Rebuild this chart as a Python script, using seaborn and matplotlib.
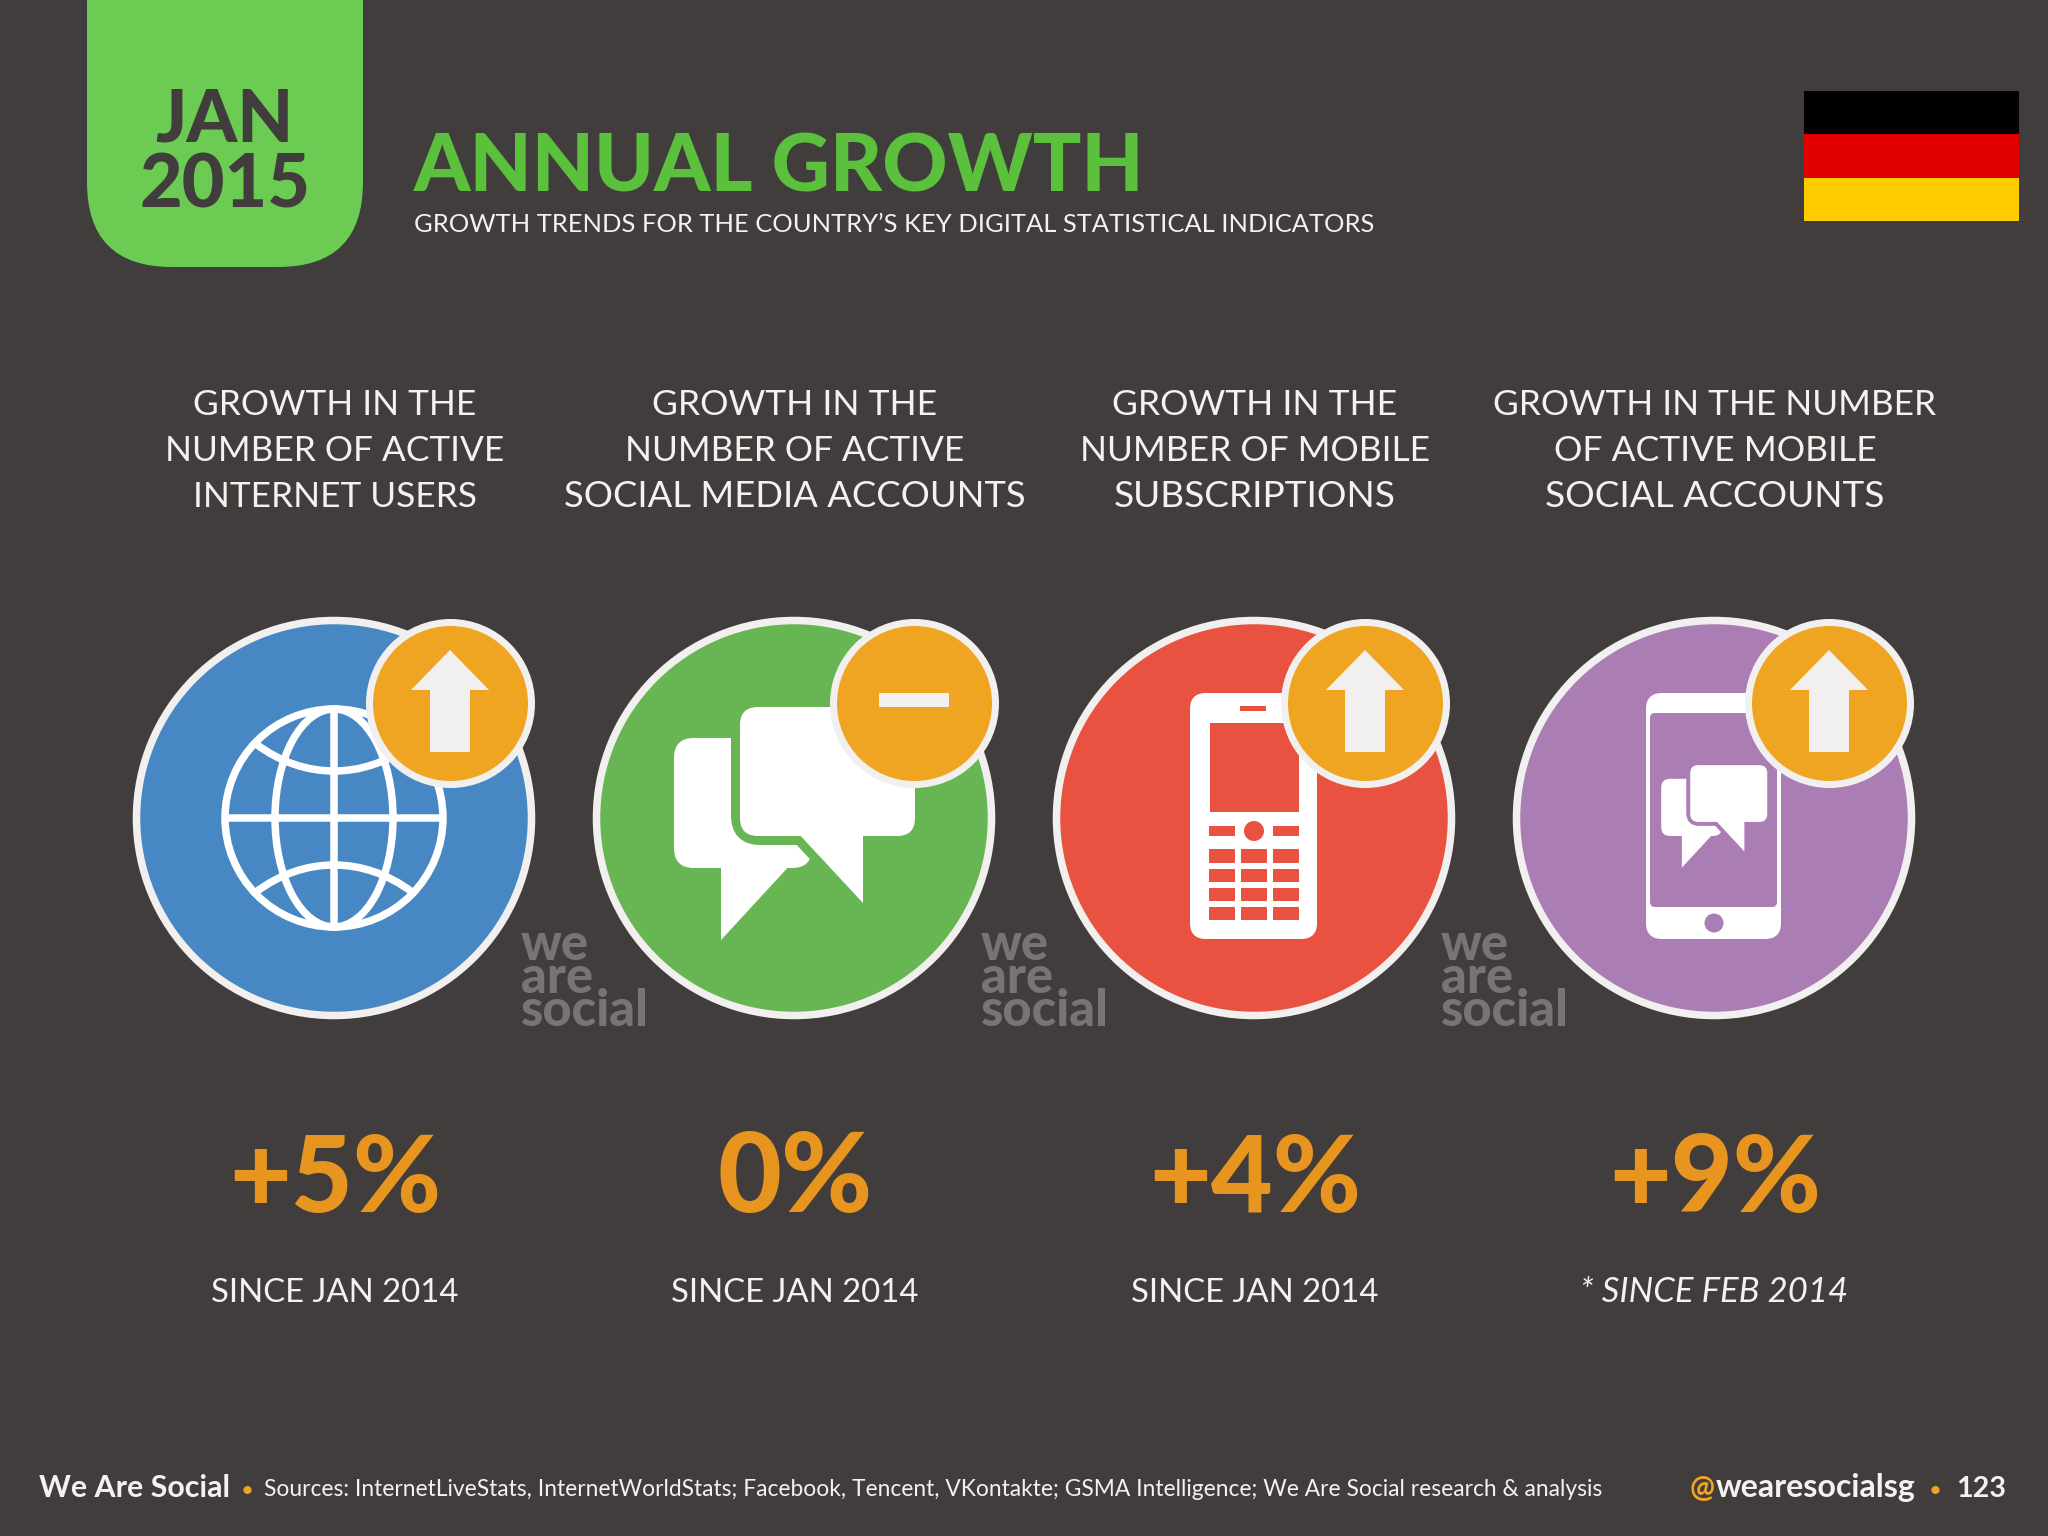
# Annual growth slide: four digital indicators for Germany, Jan 2015
import pandas as pd
import matplotlib
matplotlib.use('Agg')
import matplotlib.pyplot as plt
import seaborn as sns
from matplotlib.patches import FancyBboxPatch, Polygon, Ellipse, Rectangle, PathPatch
from matplotlib.path import Path

# Data
metrics = ['Internet users', 'Social media accounts', 'Mobile subscriptions', 'Mobile social accounts']
growth_pct = [5, 0, 4, 9]
since_labels = ['SINCE JAN 2014', 'SINCE JAN 2014', 'SINCE JAN 2014', '* SINCE FEB 2014']
header_lines = [
    ['GROWTH IN THE', 'NUMBER OF ACTIVE', 'INTERNET USERS'],
    ['GROWTH IN THE', 'NUMBER OF ACTIVE', 'SOCIAL MEDIA ACCOUNTS'],
    ['GROWTH IN THE', 'NUMBER OF MOBILE', 'SUBSCRIPTIONS'],
    ['GROWTH IN THE NUMBER', 'OF ACTIVE MOBILE', 'SOCIAL ACCOUNTS'],
]
circle_colors = ['#4787c4', '#68b653', '#e95240', '#aa7db5']

BG = '#413d3c'
RING = '#f2f0ee'
ORANGE = '#f0a522'
PCT_ORANGE = '#e8951f'
DPI = 100

sns.set_theme(style='dark', rc={'figure.facecolor': BG, 'axes.facecolor': BG})
plt.rcParams['font.family'] = ['Lato', 'DejaVu Sans']

fig = plt.figure(figsize=(20.48, 15.36), dpi=DPI)
ax = fig.add_axes([0, 0, 1, 1])

col_x = [334, 794, 1254, 1714]
badge_x = [450, 914, 1365, 1829]
circle_y = 818
badge_y = 703

df = pd.DataFrame({'metric': metrics, 'growth': growth_pct, 'x': col_x, 'bx': badge_x})
df['y'] = circle_y
df['by'] = badge_y


def px_to_pt(v):
    return v * 72 / DPI


renderer = fig.canvas.get_renderer()


def put(x, y, s, width=None, size=30, color='#f4f2f0', ha='center', weight='normal', style='normal', z=20, **kw):
    # text with its baseline at y; size is adjusted so the string has the wanted pixel width
    t = ax.text(x, y, s, color=color, ha=ha, va='baseline', fontsize=size,
                fontweight=weight, fontstyle=style, zorder=z, **kw)
    if width is not None:
        w = t.get_window_extent(renderer).width
        t.set_fontsize(size * width / w)
    return t


def rect(x0, x1, y0, y1, color, r=0, z=5, edge=None, lw=0):
    if r > 0:
        p = FancyBboxPatch((x0, y0), x1 - x0, y1 - y0, boxstyle=f'round,pad=0,rounding_size={r}',
                           fc=color, ec=edge if edge else 'none', lw=lw, zorder=z)
    else:
        p = Rectangle((x0, y0), x1 - x0, y1 - y0, fc=color, ec=edge if edge else 'none', lw=lw, zorder=z)
    ax.add_patch(p)


def poly(points, color, z=5, edge=None, lw=0):
    ax.add_patch(Polygon(points, closed=True, fc=color, ec=edge if edge else 'none', lw=lw, zorder=z))


def draw_globe(cx, cy, color='white'):
    lw = px_to_pt(7.5)
    kw = dict(fc='none', ec=color, lw=lw, zorder=5)
    ax.add_patch(Ellipse((cx, cy), 218, 218, **kw))
    ax.add_patch(Ellipse((cx, cy), 118, 218, **kw))
    ax.plot([cx, cx], [cy - 108, cy + 108], color=color, lw=lw, zorder=5)
    ax.plot([cx - 108, cx + 108], [cy, cy], color=color, lw=lw, zorder=5)
    for sgn in (-1, 1):
        verts = [(cx - 78, cy + sgn * 74), (cx - 30, cy + sgn * 38), (cx + 30, cy + sgn * 38), (cx + 78, cy + sgn * 74)]
        codes = [Path.MOVETO, Path.CURVE4, Path.CURVE4, Path.CURVE4]
        ax.add_patch(PathPatch(Path(verts, codes), fc='none', ec=color, lw=lw, zorder=5))


def draw_chat(cx, cy, bg, scale=1.0, z=5):
    def sx(v):
        return cx + v * scale

    def sy(v):
        return cy + v * scale

    # back bubble and its tail
    rect(sx(-120), sx(18), sy(-80), sy(50), 'white', r=20 * scale, z=z)
    poly([(sx(-73), sy(45)), (sx(-73), sy(122)), (sx(-2), sy(45))], 'white', z=z)
    # front bubble sits on a gap in the circle colour
    gap = px_to_pt(18 * scale)
    rect(sx(-54), sx(121), sy(-111), sy(18), bg, r=20 * scale, z=z + 0.1, edge=bg, lw=gap)
    poly([(sx(3), sy(14)), (sx(69), sy(85)), (sx(69), sy(14))], bg, z=z + 0.1, edge=bg, lw=gap)
    rect(sx(-54), sx(121), sy(-111), sy(18), 'white', r=18 * scale, z=z + 0.2)
    poly([(sx(3), sy(14)), (sx(69), sy(85)), (sx(69), sy(14))], 'white', z=z + 0.2)


def draw_feature_phone(cx, cy, bg):
    rect(cx - 64, cx + 63, cy - 125, cy + 121, 'white', r=16)
    rect(cx - 14, cx + 12, cy - 112, cy - 107, bg, z=6)
    rect(cx - 44, cx + 45, cy - 95, cy - 6, bg, z=6)
    rect(cx - 45, cx - 19, cy + 8, cy + 18, bg, z=6)
    rect(cx + 19, cx + 45, cy + 8, cy + 18, bg, z=6)
    ax.add_patch(Ellipse((cx, cy + 13), 20, 20, fc=bg, ec='none', zorder=6))
    for y0, y1 in [(31, 45), (51, 64), (70, 83), (89, 102)]:
        for x0, x1 in [(-45, -19), (-13, 13), (19, 45)]:
            rect(cx + x0, cx + x1, cy + y0, cy + y1, bg, z=6)


def draw_smartphone(cx, cy, bg):
    rect(cx - 68, cx + 67, cy - 125, cy + 121, 'white', r=16)
    rect(cx - 64, cx + 63, cy - 105, cy + 89, bg, r=5, z=6)
    ax.add_patch(Ellipse((cx, cy + 105), 19, 19, fc=bg, ec='none', zorder=6))
    # small copy of the chat bubbles on the screen
    draw_chat(cx, cy - 4, bg, scale=0.44, z=7)


# big coloured circles, then the status badges on top of the icons
sns.scatterplot(data=df, x='x', y='y', hue='metric', palette=dict(zip(metrics, circle_colors)),
                s=px_to_pt(395) ** 2, edgecolor=RING, linewidth=px_to_pt(7.5),
                legend=False, ax=ax, zorder=3)
sns.scatterplot(data=df, x='bx', y='by', color=ORANGE,
                s=px_to_pt(162) ** 2, edgecolor=RING, linewidth=px_to_pt(7),
                legend=False, ax=ax, zorder=9)

draw_globe(col_x[0], circle_y)
draw_chat(col_x[1], circle_y, circle_colors[1])
draw_feature_phone(col_x[2], circle_y, circle_colors[2])
draw_smartphone(col_x[3], circle_y, circle_colors[3])

for bx, val in zip(badge_x, growth_pct):
    if val > 0:
        poly([(bx, badge_y - 53), (bx + 39, badge_y - 13), (bx + 20, badge_y - 13), (bx + 20, badge_y + 49),
              (bx - 20, badge_y + 49), (bx - 20, badge_y - 13), (bx - 39, badge_y - 13)], RING, z=10)
    else:
        rect(bx - 35, bx + 35, badge_y - 10, badge_y + 4, RING, z=10)

# date tab
rect(87, 363, -120, 267, '#6ccb52', r=85, z=2)
put(224, 141, 'JAN', width=138, color=BG, weight='black')
put(225, 208, '2015', width=171, color=BG, weight='black')

# title block
put(414, 192, 'ANNUAL GROWTH', width=729, color='#5bc03c', ha='left', weight='black')
put(414, 232, 'GROWTH TRENDS FOR THE COUNTRY\u2019S KEY DIGITAL STATISTICAL INDICATORS', width=955, ha='left')

# flag
for (y0, y1), c in zip([(91, 134), (134, 178), (178, 221)], ['#000000', '#e00000', '#ffcc00']):
    rect(1804, 2019, y0, y1, c, z=2)

# column headers
header_y = [415, 461, 507]
line_widths = [
    [283, 339, 283],
    [284, 338, 459],
    [284, 349, 281],
    [442, 322, 339],
]
for cx, lines, widths in zip(col_x, header_lines, line_widths):
    for y, line, w in zip(header_y, lines, widths):
        put(cx + 1, y, line, width=w)

# growth figures
pct_widths = [212, 155, 212, 212]
for cx, val, w, since in zip(col_x, growth_pct, pct_widths, since_labels):
    label = f'{val:+d}%' if val != 0 else '0%'
    put(cx + 1, 1212, label, width=w, color=PCT_ORANGE, weight='black')
    italic = since.startswith('*')
    put(cx + (1 if not italic else 0), 1302, since, width=267 if italic else 247, style='italic' if italic else 'normal')

# we are social watermarks
for wx in [521, 981, 1441]:
    put(wx, 1026, 'we\nare\nsocial', width=128, color='#787473', ha='left', weight='black', z=2,
        linespacing=0.63, multialignment='left')

# footer
put(39, 1497, 'We Are Social', width=191, ha='left', weight='bold')
put(247, 1497, '\u2022', size=16, color=ORANGE)
put(264, 1496, 'Sources: InternetLiveStats, InternetWorldStats; Facebook, Tencent, VKontakte; '
    'GSMA Intelligence; We Are Social research & analysis', width=1336, ha='left')
put(1690, 1497, '@', width=25, color=ORANGE, ha='left', weight='bold')
put(1716, 1497, 'wearesocialsg', width=200, ha='left', weight='bold')
put(1935, 1497, '\u2022', size=16, color=ORANGE)
put(1956, 1497, '123', width=50, ha='left', weight='bold')

ax.set_xlim(0, 2048)
ax.set_ylim(1536, 0)
ax.axis('off')

fig.savefig('out.png', dpi=DPI, facecolor=BG)
